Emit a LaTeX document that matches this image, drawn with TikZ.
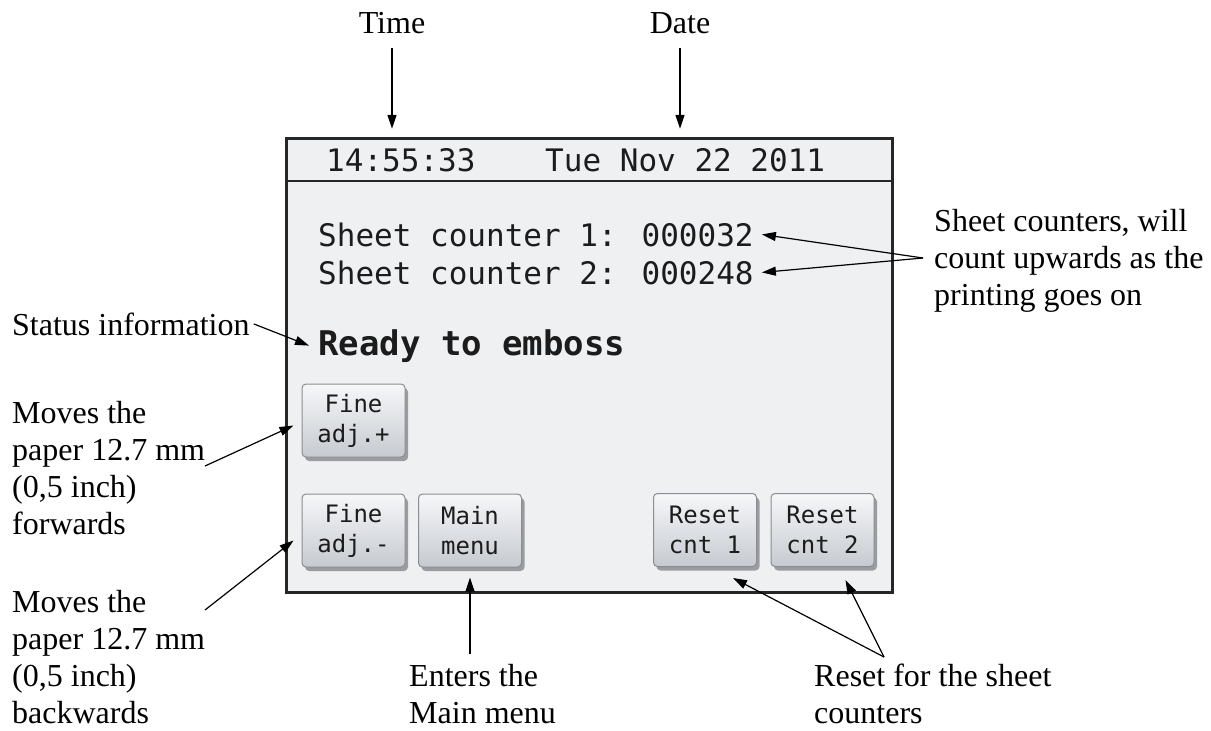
\documentclass[tikz,border=0pt]{standalone}
\usepackage{fontspec}
\setmainfont{Liberation Serif}
\newfontfamily\scrfont{DejaVu Sans Mono}
\usetikzlibrary{arrows.meta,shadows,calc}
\definecolor{scrbg}{HTML}{EEF0F2}
\definecolor{btntop}{HTML}{F6F7F9}
\definecolor{btnbot}{HTML}{C6CAD0}
\definecolor{btnedge}{HTML}{8A8E94}
\definecolor{scrtext}{HTML}{1C1C1C}
\definecolor{frame}{HTML}{262626}
\begin{document}
\begin{tikzpicture}[x=1pt,y=-1pt,
  lbl/.style={font=\fontsize{32}{37}\selectfont, align=left, inner sep=0pt, anchor=base west},
  scrtxt/.style={font=\scrfont\fontsize{31}{38}\selectfont, text=scrtext, inner sep=4pt, anchor=base west},
  btn/.style={draw=btnedge, line width=1pt, rounded corners=4pt, top color=btntop, bottom color=btnbot,
    minimum width=103pt, minimum height=73pt, inner sep=0pt, align=center,
    font=\scrfont\fontsize{24}{30}\selectfont, text=scrtext,
    drop shadow={shadow xshift=3pt, shadow yshift=-4pt, opacity=0.35, fill=black}},
  arr/.style={-{Triangle[length=14pt,width=9pt]}, line width=1.2pt}]
\useasboundingbox (0,0) rectangle (1211,731);
\fill[white] (0,0) rectangle (1211,731);
% screen
\node[draw=frame, line width=3pt, fill=scrbg, minimum width=606pt, minimum height=454pt,
  inner sep=0pt, anchor=north west] (screen) at (285,137) {};
\draw[frame, line width=2pt] ($(screen.north west)+(0,44)$) -- ($(screen.north east)+(0,44)$);
% header
\node[scrtxt] (hdrtime) at (322,171) {14:55:33};
\node[scrtxt] (hdrdate) at (541,171) {Tue Nov 22 2011};
% counters
\node[scrtxt] (cnt1) at (314,246) {Sheet counter 1: 000032};
\node[scrtxt] (cnt2) at (314,284) {Sheet counter 2: 000248};
\node[scrtxt, font=\scrfont\bfseries\fontsize{34}{40}\selectfont, inner sep=0pt] (ready) at (318,355) {Ready to emboss};
% buttons
\node[btn] (fp) at (353.5,420.5) {Fine\\adj.+};
\node[btn] (fm) at (353.5,530.5) {Fine\\adj.-};
\node[btn] (mm) at (470,530.5) {Main\\menu};
\node[btn] (r1) at (705,530) {Reset\\cnt 1};
\node[btn] (r2) at (822.5,530) {Reset\\cnt 2};
% labels (base = baseline of the last line)
\node[lbl, anchor=base] (timelbl) at (392,33) {Time};
\node[lbl, anchor=base] (datelbl) at (680,33) {Date};
\node[lbl] (status) at (12,335) {Status information};
\node[lbl] (fwd) at (12,534) {Moves the\\paper 12.7 mm\\(0,5 inch)\\forwards};
\node[lbl] (bwd) at (12,723) {Moves the\\paper 12.7 mm\\(0,5 inch)\\backwards};
\node[lbl] (enter) at (409,723) {Enters the\\Main menu};
\node[lbl] (resetlbl) at (814,723) {Reset for the sheet\\counters};
\node[lbl] (cntlbl) at (934,305) {Sheet counters, will\\count upwards as the\\printing goes on};
% connector end points
\coordinate (cconv) at (923,258);
\coordinate (rconv) at (884,657);
\coordinate (fpfrom) at (205,466);
\coordinate (fmfrom) at (205,610);
% arrows
\draw[arr] ($(timelbl.south)+(0,14)$) -- ($(timelbl.south |- hdrtime.north)+(0,-15)$);
\draw[arr] ($(datelbl.south)+(0,14)$) -- ($(datelbl.south |- hdrdate.north)+(0,-15)$);
\draw[arr] (cconv) -- ($(cnt1.east)+(4,0)$);
\draw[arr] (cconv) -- ($(cnt2.east)+(4,0)$);
\draw[arr] ($(status.east)+(4,0)$) -- ($(ready.west)+(-9,0)$);
\draw[arr] (fpfrom) -- ($(fp.west)+(-8,5)$);
\draw[arr] (fmfrom) -- ($(fm.west)+(-8,10)$);
\draw[arr] ($(mm.south |- enter.north)+(0,-10)$) -- ($(mm.south)+(0,10)$);
\draw[arr] (rconv) -- ($(r1.south)+(28,11)$);
\draw[arr] (rconv) -- ($(r2.south)+(23,13)$);
\end{tikzpicture}
\end{document}
